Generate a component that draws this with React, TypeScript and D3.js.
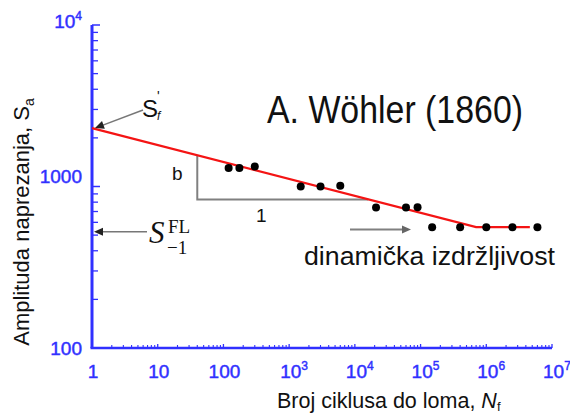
import React from "react";
import * as d3 from "d3";

// Test results: number of cycles to failure and stress amplitude
const cycles = [120, 175, 300, 1500, 3000, 6000, 21000, 60000, 90000, 150000, 400000, 1000000, 2500000, 6000000];
const stress = [1300, 1300, 1330, 1000, 1000, 1010, 740, 740, 745, 560, 560, 560, 560, 560];

// Basquin line with fatigue limit plateau
const fitN = [1, 700000, 4600000];
const fitS = [2300, 560, 560];

// Slope triangle (b : 1)
const triN = [40, 16000];
const triS = [1560, 830];

const fatigueStrength = 2300; // S'f
const fatigueLimit = 525; // S^FL_-1 marker

const xTickExp = [0, 1, 2, 3, 4, 5, 6, 7];
const yTickExp = [2, 3, 4];

const BLUE = "#3030ff";
const SANS = "'Liberation Sans', Arial, sans-serif";
const SERIF = "'Liberation Serif', 'Times New Roman', serif";

export default function App() {
  const W = 570;
  const H = 415;
  const x = d3.scaleLog().domain([1, 1e7]).range([92, 552]);
  const y = d3.scaleLog().domain([100, 1e4]).range([348, 25]);

  const line = d3
    .line<number>()
    .x((_, i) => x(fitN[i]))
    .y((d) => y(d));

  const x0 = x(1);
  const yBase = y(100);

  const yMinor: number[] = [];
  for (let e = 2; e < 4; e++) for (let m = 2; m <= 9; m++) yMinor.push(m * 10 ** e);
  const xMinor: number[] = [];
  for (let e = 0; e < 7; e++) for (let m = 2; m <= 9; m++) xMinor.push(m * 10 ** e);

  const yLabelShift: Record<number, number> = { 2: 7, 3: -3.5, 4: 3 };

  const fmtX = (e: number) => (e <= 2 ? String(10 ** e) : null);

  const arrowHead = (tx: number, ty: number, fx: number, fy: number, size = 8) => {
    const a = Math.atan2(ty - fy, tx - fx);
    const w = size * 0.45;
    const bx = tx - size * Math.cos(a);
    const by = ty - size * Math.sin(a);
    const p1 = [bx + w * Math.sin(a), by - w * Math.cos(a)];
    const p2 = [bx - w * Math.sin(a), by + w * Math.cos(a)];
    return `M${tx},${ty}L${p1[0]},${p1[1]}L${p2[0]},${p2[1]}Z`;
  };

  const sfX = x(1) + 3;
  const sfY = y(fatigueStrength);
  const flY = y(fatigueLimit);

  return (
    <svg width={W} height={H} style={{ position: "absolute", left: 0, top: 0, background: "#fff" }}>
      {/* axes */}
      <line x1={x0} x2={x0} y1={y(1e4)} y2={yBase} stroke={BLUE} strokeWidth={3} />
      <line x1={x0 - 1.5} x2={x(1e7)} y1={yBase} y2={yBase} stroke={BLUE} strokeWidth={2.5} />
      {yMinor.map((v) => (
        <line key={"ym" + v} x1={x0} x2={x0 + 6} y1={y(v)} y2={y(v)} stroke={BLUE} strokeWidth={1.3} />
      ))}
      {yTickExp.map((e) => (
        <line key={"yM" + e} x1={x0} x2={x0 + 8} y1={y(10 ** e)} y2={y(10 ** e)} stroke={BLUE} strokeWidth={1.5} />
      ))}
      {xMinor.map((v) => (
        <line key={"xm" + v} x1={x(v)} x2={x(v)} y1={yBase} y2={yBase - 3} stroke={BLUE} strokeWidth={1.1} />
      ))}
      {xTickExp.map((e) => (
        <line key={"xM" + e} x1={x(10 ** e)} x2={x(10 ** e)} y1={yBase} y2={yBase - 4} stroke={BLUE} strokeWidth={1.3} />
      ))}

      {/* tick labels */}
      <g fill={BLUE} stroke={BLUE} strokeWidth={0.45} fontFamily={SANS} fontSize={19}>
        {yTickExp.map((e) => (
          <text key={"yl" + e} x={82} y={y(10 ** e) + yLabelShift[e]} textAnchor="end">
            {e === 4 ? (
              <>
                10<tspan fontSize={12} dy={-8}>{e}</tspan>
              </>
            ) : (
              String(10 ** e)
            )}
          </text>
        ))}
        {xTickExp.map((e) => {
          const s = fmtX(e);
          return s !== null ? (
            <text key={"xl" + e} x={x(10 ** e) + 1} y={378} textAnchor="middle">
              {s}
            </text>
          ) : (
            <text key={"xl" + e} x={x(10 ** e) - 9} y={378} textAnchor="start">
              10<tspan fontSize={12} dy={-8}>{e}</tspan>
            </text>
          );
        })}
      </g>

      {/* axis titles */}
      <text
        transform={`translate(29,${222}) rotate(-90)`}
        textAnchor="middle"
        fontFamily={SANS}
        fontSize={22}
        fill="#111"
      >
        Amplituda naprezanja, S<tspan fontSize={14} dy={5}>a</tspan>
      </text>
      <text x={277} y={408} fontFamily={SANS} fontSize={21.5} fill="#111">
        Broj ciklusa do loma, <tspan fontStyle="italic">N</tspan>
        <tspan fontSize={13} dy={3}>f</tspan>
      </text>

      {/* slope triangle */}
      <path
        d={`M${x(triN[0])},${y(triS[0])}L${x(triN[0])},${y(triS[1])}L${x(triN[1])},${y(triS[1])}`}
        fill="none"
        stroke="#808080"
        strokeWidth={2}
      />
      <text x={172} y={180} fontFamily={SANS} fontSize={19} fill="#111">b</text>
      <text x={256} y={222} fontFamily={SANS} fontSize={19} fill="#111">1</text>

      {/* fitted curve */}
      <path d={line(fitS) ?? ""} fill="none" stroke="#f41414" strokeWidth={2.2} />

      {/* data points */}
      {cycles.map((n, i) => (
        <circle key={"p" + i} cx={x(n)} cy={y(stress[i])} r={4} fill="#000" />
      ))}

      {/* S'f annotation */}
      <line x1={143} y1={110} x2={sfX + 4} y2={sfY - 1.5} stroke="#777" strokeWidth={1.5} />
      <path d={arrowHead(sfX, sfY, 143, 110, 9)} fill="#222" />
      <text x={142} y={117} fontFamily={SANS} fontSize={24} fill="#111">
        S
      </text>
      <text x={157} y={101} fontFamily={SANS} fontSize={14} fill="#111">'</text>
      <text x={157} y={120} fontFamily={SANS} fontSize={12} fontStyle="italic" fill="#111">f</text>

      {/* fatigue limit annotation */}
      <line x1={147} y1={flY} x2={x0 + 8} y2={flY} stroke="#777" strokeWidth={1.6} />
      <path d={arrowHead(x0 + 2, flY, 147, flY, 9)} fill="#222" />
      <text x={149} y={243} fontFamily={SERIF} fontStyle="italic" fontSize={31} fill="#111">S</text>
      <text x={168} y={233} fontFamily={SERIF} fontSize={19} fill="#111">FL</text>
      <text x={167} y={254} fontFamily={SERIF} fontSize={19} fill="#111">−1</text>

      {/* endurance arrow and label */}
      <line x1={350} y1={229.5} x2={404} y2={229.5} stroke="#808080" strokeWidth={2} />
      <path d={arrowHead(411, 229.5, 350, 229.5, 9)} fill="#666" />
      <text x={304} y={265} fontFamily={SANS} fontSize={26} textLength={251} lengthAdjust="spacingAndGlyphs" fill="#111">
        dinamička izdržljivost
      </text>

      {/* title */}
      <text x={267} y={123} fontFamily={SANS} fontSize={39} textLength={256} lengthAdjust="spacingAndGlyphs" fill="#111">
        A. Wöhler (1860)
      </text>
    </svg>
  );
}
